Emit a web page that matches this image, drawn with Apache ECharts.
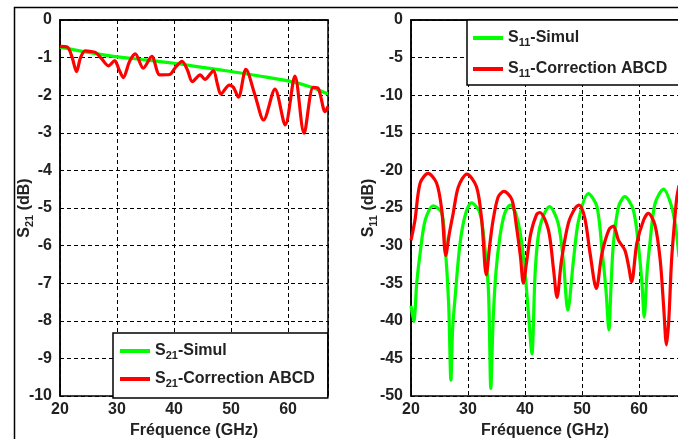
<!DOCTYPE html>
<html><head><meta charset="utf-8">
<script src="https://cdn.jsdelivr.net/npm/echarts@6/dist/echarts.min.js"></script>
<style>html,body{margin:0;padding:0;background:#fff}#c{width:678px;height:439px}</style>
</head><body><div id="c"></div>
<script>
// ---- Data ----
const xTicks = [20, 30, 40, 50, 60];
const s21Ticks = [0, -1, -2, -3, -4, -5, -6, -7, -8, -9, -10];
const s11Ticks = [0, -5, -10, -15, -20, -25, -30, -35, -40, -45, -50];

const s21SimulFreq = [20, 25, 30, 35, 40, 45, 50, 55, 60, 64, 67];
const s21SimulVal  = [-0.72, -0.86, -0.98, -1.06, -1.15, -1.26, -1.37, -1.49, -1.62, -1.78, -1.97];

const s21CorrFreq = [20, 21.3, 22.1, 22.9, 23.6, 24.4, 25.5, 26.3, 27.3, 28.5, 29.6, 30.3, 31.1, 32.2, 33.2, 34.6, 36.1, 37.5, 39.2, 40.3, 41.4, 42.4, 43.2, 44.6, 45.4, 46.9, 47.6, 48.2, 49.7, 50.4, 51.3, 52.6, 54.2, 55.7, 57.7, 59.5, 61.2, 62.8, 64.4, 65.3, 66.5, 67];
const s21CorrVal  = [-0.70, -0.72, -0.98, -1.37, -1.00, -0.82, -0.84, -0.87, -1.03, -1.22, -1.08, -1.30, -1.53, -1.10, -0.90, -1.28, -0.97, -1.46, -1.45, -1.25, -1.10, -1.35, -1.64, -1.46, -1.58, -1.35, -1.70, -1.97, -1.73, -1.79, -2.05, -1.31, -2.00, -2.66, -1.84, -2.79, -1.49, -3.01, -1.79, -1.82, -2.44, -2.30];

const s11SimulFreq = [20, 20.5, 21.0, 21.6, 22.5, 23.9, 25.4, 26.0, 26.6, 27.0, 27.3, 27.7, 28.6, 29.6, 30.6, 32.1, 33.0, 33.6, 34.0, 34.4, 34.9, 35.6, 36.4, 37.4, 38.4, 39.3, 40.1, 40.7, 41.2, 41.8, 42.6, 44.3, 45.8, 46.7, 47.5, 48.5, 49.4, 51.1, 52.6, 53.5, 54.2, 54.7, 55.1, 55.5, 56.4, 57.5, 59.0, 59.9, 60.5, 60.9, 61.4, 61.9, 62.8, 64.3, 65.7, 66.4, 67];
const s11SimulVal  = [-38.0, -40.1, -35.0, -31.0, -26.6, -24.7, -25.7, -30.1, -37.7, -47.9, -41.0, -37.2, -29.7, -25.7, -24.3, -25.7, -30.6, -36.3, -49.0, -40.0, -33.5, -28.8, -25.8, -24.6, -25.8, -29.0, -34.5, -40.0, -44.4, -33.2, -27.5, -24.8, -27.0, -31.9, -38.6, -31.9, -26.6, -23.1, -24.8, -30.6, -36.0, -41.2, -35.0, -29.7, -24.8, -23.5, -25.3, -30.1, -35.0, -39.5, -33.5, -29.7, -24.4, -22.5, -24.8, -27.5, -31.5];

const s11CorrFreq = [20, 20.7, 21.6, 23.0, 24.5, 25.4, 26.1, 26.7, 27.4, 28.3, 29.8, 31.5, 32.4, 33.2, 33.8, 34.4, 35.3, 36.3, 37.7, 38.5, 39.2, 39.7, 40.3, 41.0, 42.0, 42.6, 44.1, 45.0, 45.6, 46.4, 47.6, 48.8, 49.5, 50.5, 51.4, 52.5, 53.5, 54.7, 55.5, 56.4, 57.5, 58.1, 58.7, 59.6, 60.8, 61.6, 62.8, 63.7, 64.3, 64.8, 65.2, 65.7, 66.2, 66.6, 67];
const s11CorrVal  = [-29.3, -26.6, -21.7, -20.4, -21.7, -25.3, -31.3, -28.5, -25.7, -22.2, -20.5, -22.2, -26.6, -33.9, -30.0, -26.6, -23.5, -22.8, -23.9, -27.5, -31.5, -35.0, -32.0, -28.4, -25.9, -25.6, -27.9, -33.2, -36.9, -31.9, -27.0, -25.0, -24.6, -26.4, -31.0, -35.7, -31.0, -27.9, -27.4, -29.3, -30.6, -32.5, -34.8, -29.7, -26.6, -25.7, -27.3, -31.9, -38.0, -43.2, -40.0, -31.9, -27.0, -23.7, -22.0];

const names = {
  s21Simul: 'S21-Simul', s21Corr: 'S21-Correction ABCD',
  s11Simul: 'S11-Simul', s11Corr: 'S11-Correction ABCD'
};

function zip(a, b) { return a.map((v, i) => [v, b[i]]); }

const FONT = 'Liberation Sans, Arial, sans-serif';
const TXT = '#222';
const rich = {
  a: { fontFamily: FONT, fontWeight: 'bold', fontSize: 16, color: TXT, lineHeight: 20 },
  sub: { fontFamily: FONT, fontWeight: 'bold', fontSize: 11, color: TXT, lineHeight: 11, verticalAlign: 'bottom' }
};
function richName(n) {
  const m = n.match(/^S(\d\d)(.*)$/);
  return '{a|S}{sub|' + m[1] + '}{a|' + m[2] + '}';
}

function xAxisCfg(gi) {
  return {
    type: 'value', gridIndex: gi, min: 20, max: 67, interval: 10,
    name: 'Fréquence (GHz)', nameLocation: 'middle', nameGap: 22,
    nameTextStyle: { fontFamily: FONT, fontWeight: 'bold', fontSize: 16, color: TXT },
    axisLine: { lineStyle: { color: '#000', width: 1.5 } },
    axisTick: { show: false },
    axisLabel: { margin: 6, showMaxLabel: false, fontFamily: FONT, fontWeight: 'bold', fontSize: 16, color: TXT,
      formatter: v => (xTicks.indexOf(v) >= 0 ? String(v) : '') },
    splitLine: { show: true, lineStyle: { color: '#000', type: [4, 3], width: 1 } }
  };
}
function yAxisCfg(gi, ticks, nm, gap) {
  const lo = Math.min(...ticks), hi = Math.max(...ticks);
  return {
    type: 'value', gridIndex: gi, min: lo, max: hi, interval: (hi - lo) / (ticks.length - 1),
    name: nm, nameLocation: 'middle', nameGap: gap, nameRotate: 90, nameMoveOverlap: false,
    nameTextStyle: { rich: rich },
    axisLine: { show: true, lineStyle: { color: '#000', width: 1.5 } },
    axisTick: { show: false },
    axisLabel: { margin: 8, fontFamily: FONT, fontWeight: 'bold', fontSize: 16, color: TXT },
    splitLine: { show: true, lineStyle: { color: '#000', type: [4, 3], width: 1 } }
  };
}
function legendCfg(data, left, top, pad, gap) {
  return {
    data: data, orient: 'vertical', left: left, top: top, icon: 'rect',
    padding: pad, itemGap: gap, itemWidth: 30, itemHeight: 4,
    backgroundColor: '#fff', borderColor: '#000', borderWidth: 1.5, borderRadius: 0,
    formatter: n => richName(n),
    textStyle: { rich: rich }
  };
}
function lineSeries(name, xi, data, color) {
  return {
    type: 'line', name: name, xAxisIndex: xi, yAxisIndex: xi, data: data,
    symbol: 'none', smooth: 0.3, lineStyle: { color: color, width: 3.2 }, itemStyle: { color: color },
    animation: false
  };
}

const chart = echarts.init(document.getElementById('c'), null, { renderer: 'canvas' });
chart.setOption({
  animation: false,
  backgroundColor: '#fff',
  grid: [
    { left: 60, top: 20, width: 268, height: 376, show: true, borderColor: '#000', borderWidth: 1.5, outerBoundsMode: 'none' },
    { left: 411, top: 20, width: 268, height: 376, show: true, borderColor: '#000', borderWidth: 1.5, outerBoundsMode: 'none' }
  ],
  xAxis: [xAxisCfg(0), xAxisCfg(1)],
  yAxis: [
    yAxisCfg(0, s21Ticks, '{a|S}{sub|21}{a| (dB)}', 25),
    yAxisCfg(1, s11Ticks, '{a|S}{sub|11}{a| (dB)}', 32)
  ],
  legend: [
    legendCfg([names.s21Simul, names.s21Corr], 113, 333, [10, 13, 9, 7], 10),
    legendCfg([names.s11Simul, names.s11Corr], 467, 20, [10, 40, 6, 6], 13)
  ],
  graphic: [{
    type: 'rect', left: 12, top: 5, z: 100, silent: true,
    shape: { width: 700, height: 500 },
    style: { fill: 'none', stroke: '#000', lineWidth: 1.5 }
  }],
  series: [
    lineSeries(names.s21Simul, 0, zip(s21SimulFreq, s21SimulVal), '#00ff00'),
    lineSeries(names.s21Corr, 0, zip(s21CorrFreq, s21CorrVal), '#ff0000'),
    lineSeries(names.s11Simul, 1, zip(s11SimulFreq, s11SimulVal), '#00ff00'),
    lineSeries(names.s11Corr, 1, zip(s11CorrFreq, s11CorrVal), '#ff0000')
  ]
});
</script></body></html>
